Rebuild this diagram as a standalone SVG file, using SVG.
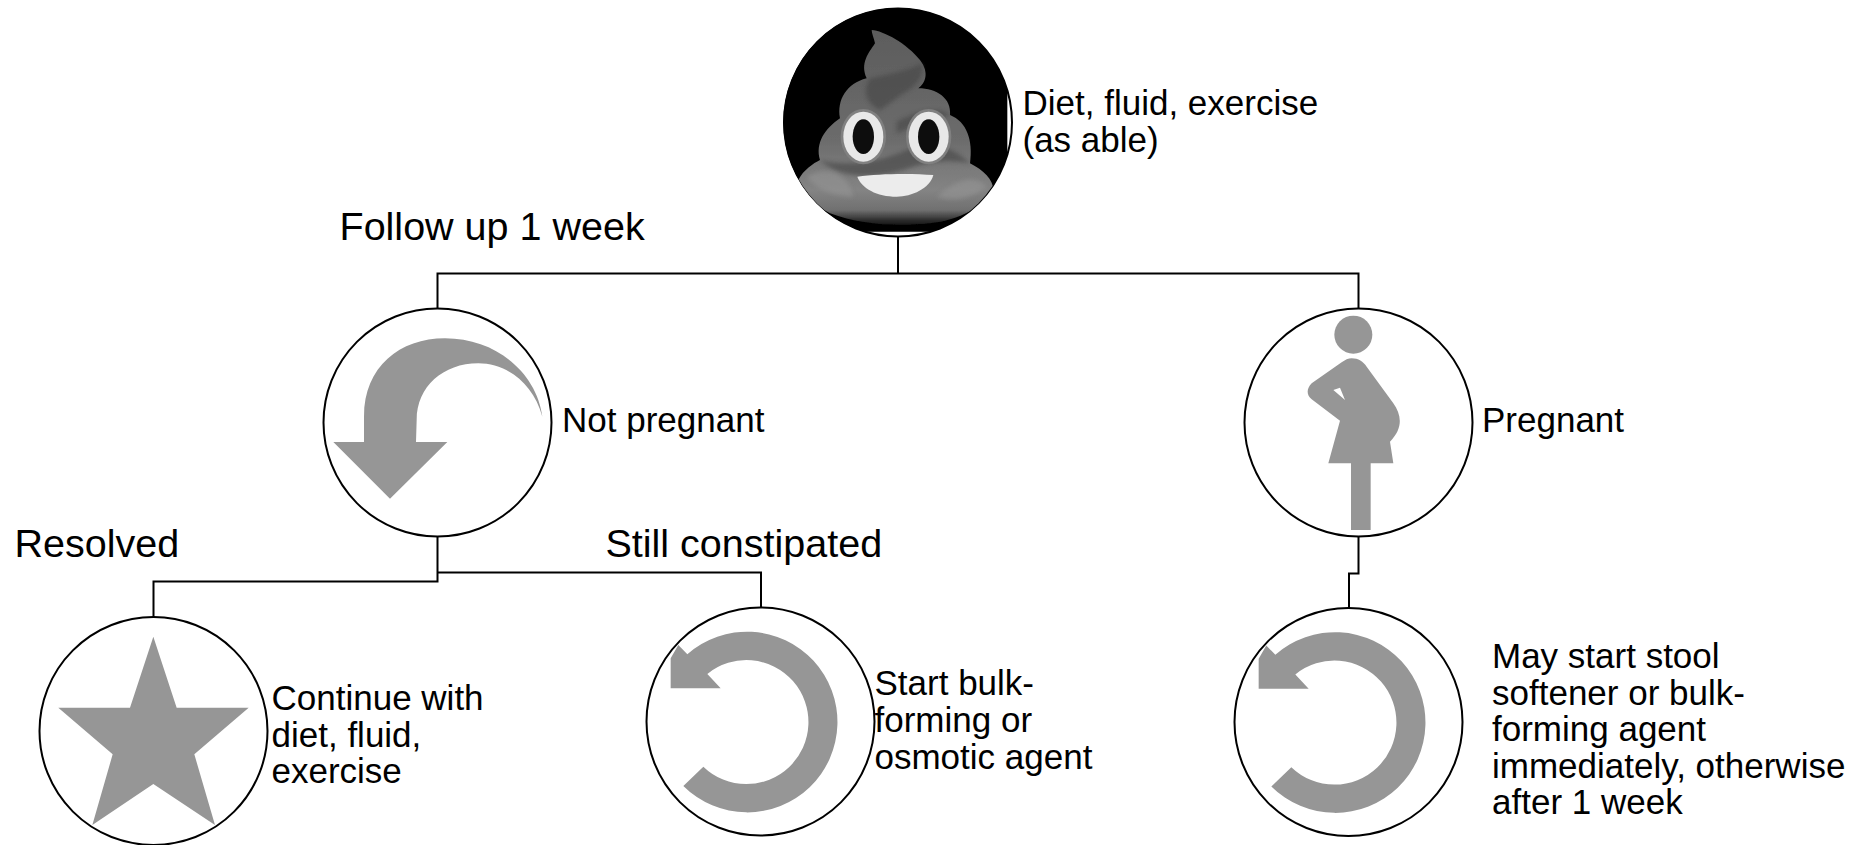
<svg xmlns="http://www.w3.org/2000/svg" width="1868" height="845" viewBox="0 0 1868 845">
<style>
.c{fill:#fff;stroke:#000;stroke-width:2}
.k{fill:none;stroke:#000;stroke-width:2}
.i{fill:#969696}
text{font-family:"Liberation Sans",Arial,sans-serif;font-size:35px;fill:#000}
.b{font-size:39.500px}
</style>
<defs>
<clipPath id="topClip"><path d="M0,0H712V695H0Z"/></clipPath>
<clipPath id="topCircle"><circle cx="383" cy="367" r="343"/></clipPath>
<linearGradient id="pg" gradientUnits="userSpaceOnUse" x1="0" y1="90" x2="0" y2="690"><stop offset="0" stop-color="#5c5c5c"/><stop offset=".55" stop-color="#6c6c6c"/><stop offset=".8" stop-color="#848484"/><stop offset=".9" stop-color="#707070"/><stop offset=".96" stop-color="#222"/><stop offset="1" stop-color="#080808"/></linearGradient>
<filter id="bl" x="-10%" y="-10%" width="120%" height="120%"><feGaussianBlur stdDeviation="7"/></filter>
<filter id="bs" x="-10%" y="-10%" width="120%" height="120%"><feGaussianBlur stdDeviation="2"/></filter>
<path id="loop" class="i" d="M160,558A271,271 0 1 0 172,163L145,135L122,175V265H272L232,222A186,186 0 1 1 220,500Z"/>
</defs>
<g id="connectors">
<path class="k" d="M898,237V273.500H437.500V308M898,273.500H1358.500V308"/>
<path class="k" d="M437.500,537V581.500H153.500V617M437.500,537V572.500H761V607"/>
<path class="k" d="M1358.500,537V573.500H1349V608"/>
</g>
<g id="node-top">
<circle class="c" cx="898" cy="122.500" r="114"/>
<g transform="translate(770,0) scale(.33333)">
<g clip-path="url(#topCircle)"><g clip-path="url(#topClip)">
<rect x="0" y="0" width="780" height="750" fill="#000"/>
<path filter="url(#bs)" fill="url(#pg)" d="M305,90C340,92 410,130 450,180C480,220 465,250 445,265C500,265 545,295 540,345C590,365 610,420 600,490C640,510 670,540 670,570C640,620 570,660 480,670C380,680 270,675 180,640C130,615 95,580 85,540C100,510 130,490 150,480C135,430 165,385 210,355C200,300 230,250 290,235C270,190 295,160 315,130C312,115 305,100 305,90Z"/>
<path filter="url(#bl)" fill="#4a4a4a" opacity=".7" d="M300,235C350,225 420,210 455,190C465,225 440,260 400,280C370,300 350,320 330,330C300,320 270,280 300,235Z"/>
<path filter="url(#bl)" fill="#4c4c4c" opacity=".7" d="M380,365C450,330 510,320 540,345C510,355 440,375 380,400ZM150,480C220,500 320,490 410,450C500,420 560,450 600,490C530,475 470,485 400,510C300,540 200,530 150,480Z"/>
<path filter="url(#bl)" fill="#949494" opacity=".6" d="M110,530C180,490 240,530 250,590C200,590 140,570 110,530ZM500,590C560,540 610,520 650,560C610,590 560,610 500,590Z"/>
<ellipse cx="280" cy="410" rx="68" ry="83" fill="#808080" filter="url(#bs)"/><ellipse cx="476" cy="410" rx="68" ry="83" fill="#808080" filter="url(#bs)"/>
<ellipse cx="280" cy="410" rx="60" ry="75" fill="#e8e8e8" filter="url(#bs)"/><ellipse cx="476" cy="410" rx="60" ry="75" fill="#e8e8e8" filter="url(#bs)"/>
<ellipse cx="280" cy="410" rx="32" ry="52" fill="#0a0a0a" filter="url(#bs)"/><ellipse cx="476" cy="410" rx="32" ry="52" fill="#0a0a0a" filter="url(#bs)"/>
<path filter="url(#bs)" fill="#ececec" d="M262,530C330,520 430,520 490,525C480,565 425,590 380,590C320,590 275,565 262,530Z"/>
</g></g></g>
<text x="1022.500" y="115">Diet, fluid, exercise</text>
<text x="1022.500" y="151.500">(as able)</text>
</g>
<text id="label-follow" class="b" x="339.500" y="240">Follow up 1 week</text>
<g id="node-not-pregnant">
<circle class="c" cx="437.500" cy="422.500" r="114"/>
<path class="i" transform="translate(310,300) scale(.33333)" d="M70,426H162V350C162,200 270,115 405,115C560,115 680,220 697,350C670,250 590,190 505,190C400,190 320,260 320,360L318,426H412L240,596Z"/>
<text x="562" y="432">Not pregnant</text>
</g>
<g id="node-pregnant">
<circle class="c" cx="1358.500" cy="422.500" r="114"/>
<g class="i" transform="translate(1230,300) scale(.33333)">
<circle cx="370" cy="104" r="57"/>
<path fill-rule="evenodd" d="M365,175C385,175 400,185 410,200L490,310C515,345 520,385 480,425L490,490H422V690H363V490H295L330,362L245,298C228,285 230,265 245,250L335,187C345,180 355,175 365,175ZM310,270L330,263L345,300Z"/>
</g>
<text x="1482" y="432">Pregnant</text>
</g>
<text id="label-resolved" class="b" x="14.500" y="557">Resolved</text>
<text id="label-still" class="b" x="605.500" y="557">Still constipated</text>
<g id="node-continue">
<circle class="c" cx="153.500" cy="731" r="114"/>
<path class="i" transform="translate(20,600) scale(.33333)" d="M400,110L470,323H686L523,463L585,675L400,552L217,675L278,463L115,323H330Z"/>
<text x="271.500" y="710">Continue with</text>
<text x="271.500" y="746.500">diet, fluid,</text>
<text x="271.500" y="783">exercise</text>
</g>
<g id="node-start">
<circle class="c" cx="760.500" cy="721.500" r="114"/>
<use href="#loop" transform="translate(630,600) scale(.33333)"/>
<text x="874.500" y="695">Start bulk-</text>
<text x="874.500" y="732">forming or</text>
<text x="874.500" y="768.500">osmotic agent</text>
</g>
<g id="node-may">
<circle class="c" cx="1348.500" cy="722" r="114"/>
<use href="#loop" transform="translate(1218,600.500) scale(.33333)"/>
<text x="1492" y="668">May start stool</text>
<text x="1492" y="705">softener or bulk-</text>
<text x="1492" y="741">forming agent</text>
<text x="1492" y="778">immediately, otherwise</text>
<text x="1492" y="814">after 1 week</text>
</g>
</svg>
